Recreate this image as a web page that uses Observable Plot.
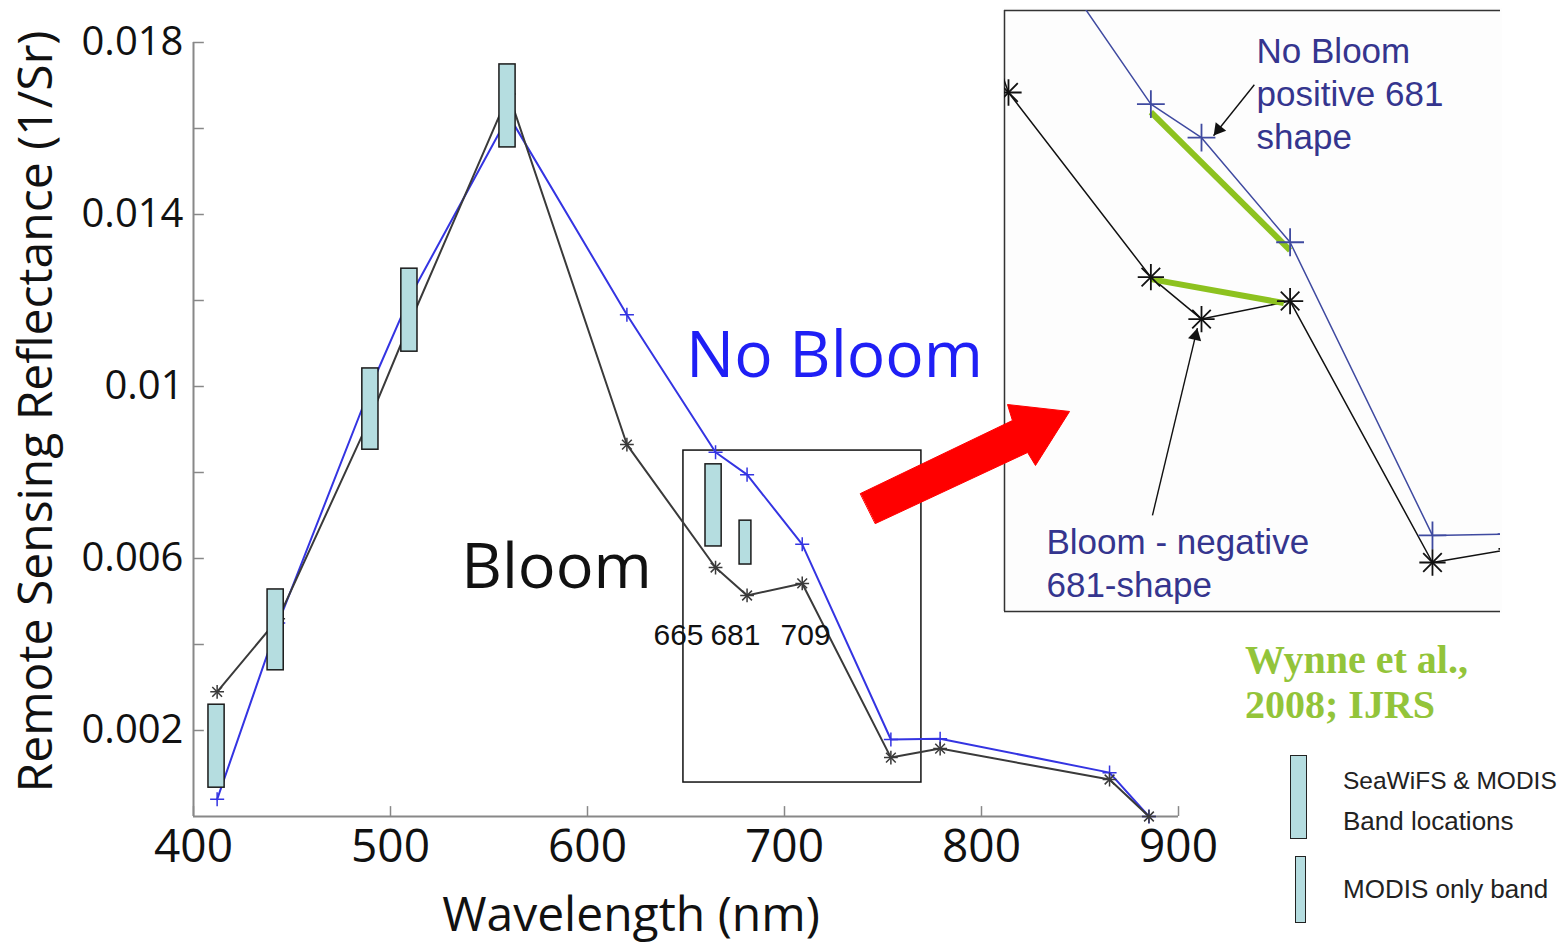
<!DOCTYPE html>
<html><head><meta charset="utf-8">
<script src="https://cdn.jsdelivr.net/npm/d3@7"></script>
<script src="https://cdn.jsdelivr.net/npm/@observablehq/plot@0.6"></script>
<style>
body{margin:0;background:#fff;}
#wrap{position:relative;width:1563px;height:947px;overflow:hidden;background:#fff;}
#inset{position:absolute;left:1002px;top:8px;}
#main{position:absolute;left:0;top:0;}
.cite{position:absolute;left:1245px;top:637px;font-family:"Liberation Serif",serif;font-weight:bold;font-size:40px;line-height:45px;color:#93c43a;white-space:nowrap;}
.leg{position:absolute;left:1343px;font-family:"Liberation Sans",Arial,sans-serif;font-size:26px;line-height:30px;color:#222;white-space:nowrap;}
.lbar{position:absolute;box-sizing:border-box;background:#b5dde0;border:1.5px solid #222;}
</style></head>
<body>
<div id="wrap">
  <div id="inset"></div>
  <div id="main"></div>
  <div class="cite">Wynne et al.,<br>2008; IJRS</div>
  <div class="lbar" style="left:1290px;top:755px;width:17px;height:84px;"></div>
  <div class="leg" style="top:766px;font-size:24.5px;">SeaWiFS &amp; MODIS</div>
  <div class="leg" style="top:806px;">Band locations</div>
  <div class="lbar" style="left:1295px;top:856px;width:11px;height:67px;"></div>
  <div class="leg" style="top:874px;">MODIS only band</div>
</div>
<script>
// ---- data (MERIS-like band centres, nm) ----
const wavelengths = [412, 443, 490, 510, 560, 620, 665, 681, 709, 754, 779, 865, 885];
const noBloom = [0.0004, 0.0045, 0.0100, 0.0121, 0.0163, 0.01167, 0.00847, 0.00795, 0.00633, 0.00179, 0.00181, 0.00102, 0.0];
const bloom   = [0.0029, 0.0046, 0.0093, 0.0115, 0.0168, 0.00865, 0.00579, 0.00514, 0.00542, 0.00137, 0.00158, 0.00086, 0.0];

// SeaWiFS & MODIS band boxes
const bandCenters = [411.7, 441.7, 489.8, 509.6, 559.4, 664.0];
const bandLow     = [0.00067, 0.00340, 0.00853, 0.01081, 0.01556, 0.00628];
const bandHigh    = [0.00260, 0.00528, 0.01042, 0.01274, 0.01749, 0.00819];
// MODIS only band box
const modisCenters = [680.2];
const modisLow     = [0.00586];
const modisHigh    = [0.00688];

// ticks
const xTicks = [400, 500, 600, 700, 800, 900];
const yTicks = [0.002, 0.006, 0.01, 0.014, 0.018];
const yTickLabels = ["0.002", "0.006", "0.01", "0.014", "0.018"];
const yMinorTicks = [0.004, 0.008, 0.012, 0.016];

// annotations (data coordinates)
const bandLabelText = ["665", "681", "709"];
const bandLabelX = [646.2, 675.1, 710.7];
const bandLabelY = [0.00421, 0.00421, 0.00421];
const zoomBoxX = [648.7, 769.5];
const zoomBoxY = [0.00079, 0.00851];
const redArrowX = [738.6, 815.7, 813.2, 844.7, 827.4, 823.4, 746.2];
const redArrowY = [0.007512, 0.009209, 0.009581, 0.009419, 0.008163, 0.008465, 0.006814];

// inset view
const insetX = [618.74, 775.5];
const insetY = [0.000611, 0.00992];
const insetNoteText = ["No Bloom\npositive 681\nshape", "Bloom - negative\n681-shape"];
const insetNoteX = [698.4, 632.0];
const insetNoteY = [0.00865, 0.001385];
const insetArrowX1 = [697.7, 665.5], insetArrowY1 = [0.00877, 0.00210];
const insetArrowX2 = [684.8, 679.7], insetArrowY2 = [0.00798, 0.00500];

// ---- build tables ----
const series = wavelengths.map((w, i) => ({w, nb: noBloom[i], b: bloom[i]}));
const bands = bandCenters.map((c, i) => ({x1: c - 4.1, x2: c + 4.1, y1: bandLow[i], y2: bandHigh[i]}));
const modisBands = modisCenters.map((c, i) => ({x1: c - 3.0, x2: c + 3.0, y1: modisLow[i], y2: modisHigh[i]}));
const bandLabels = bandLabelText.map((t, i) => ({t, x: bandLabelX[i], y: bandLabelY[i]}));
const redArrow = redArrowX.map((x, i) => ({x, y: redArrowY[i]}));
const zoomBox = [{x1: zoomBoxX[0], x2: zoomBoxX[1], y1: zoomBoxY[0], y2: zoomBoxY[1]}];

const BLUE = "#3434e2", DARK = "#3a3a3a";
const sans = "'Open Sans', 'Noto Sans', sans-serif";

const main = Plot.plot({
  width: 1563, height: 947,
  marginLeft: 193, marginRight: 385, marginTop: 42, marginBottom: 131,
  x: {domain: [400, 900]},
  y: {domain: [0, 0.018]},
  style: {background: "transparent", overflow: "visible", maxWidth: "none", fontFamily: sans, color: "#111"},
  marks: [
    Plot.axisX(xTicks, {tickSize: 0, tickPadding: 13, fontSize: 46, label: null}),
    Plot.axisY(yTicks, {tickSize: 0, tickPadding: 10, fontSize: 40, label: null,
      tickFormat: d => yTickLabels[yTicks.indexOf(d)]}),
    Plot.ruleY(yTicks.concat(yMinorTicks), {x1: 400, x2: 405.5, stroke: "#888", strokeWidth: 1.5}),
    Plot.ruleX(xTicks, {y1: 0, y2: 0.00023, stroke: "#888", strokeWidth: 1.5}),
    Plot.ruleY([0], {x1: 400, x2: 900, stroke: "#888", strokeWidth: 2}),
    Plot.ruleX([400], {y1: 0, y2: 0.018, stroke: "#888", strokeWidth: 2}),
    Plot.rect(zoomBox, {x1: "x1", x2: "x2", y1: "y1", y2: "y2", fill: "none", stroke: "#111", strokeWidth: 1.5}),
    Plot.line(series, {x: "w", y: "nb", stroke: BLUE, strokeWidth: 2}),
    Plot.line(series, {x: "w", y: "b", stroke: DARK, strokeWidth: 2}),
    Plot.dot(series, {x: "w", y: "nb", symbol: "plus", r: 4.6, stroke: BLUE, strokeWidth: 1.5}),
    Plot.dot(series, {x: "w", y: "b", symbol: "plus", r: 4.5, stroke: DARK, strokeWidth: 1.5}),
    Plot.dot(series, {x: "w", y: "b", symbol: "times", r: 4.5, stroke: DARK, strokeWidth: 1.5}),
    Plot.rect(bands, {x1: "x1", x2: "x2", y1: "y1", y2: "y2", fill: "#b5dde0", stroke: "#1a1a1a", strokeWidth: 1.5}),
    Plot.rect(modisBands, {x1: "x1", x2: "x2", y1: "y1", y2: "y2", fill: "#b5dde0", stroke: "#1a1a1a", strokeWidth: 1.5}),
    Plot.text(["Bloom"], {x: 584.3, y: 0.00579, fontSize: 63, fill: "#111", textAnchor: "middle", lineAnchor: "middle"}),
    Plot.text(["No Bloom"], {x: 725.4, y: 0.0107, fontSize: 64, fill: "#1f1ff5", textAnchor: "middle", lineAnchor: "middle"}),
    Plot.text(bandLabels, {x: "x", y: "y", text: "t", fontSize: 30, fill: "#111",
      fontFamily: "'Liberation Sans', Arial, sans-serif", textAnchor: "middle", lineAnchor: "middle"}),
    Plot.line(redArrow, {x: "x", y: "y", curve: "linear-closed", fill: "#ff0000", stroke: "#ff0000", strokeWidth: 1}),
    Plot.text(["Wavelength (nm)"], {frameAnchor: "bottom", dx: -55, dy: 99, fontSize: 48, fill: "#111",
      textAnchor: "middle", lineAnchor: "middle"}),
    Plot.text(["Remote Sensing Reflectance (1/Sr)"], {frameAnchor: "left", rotate: -90, dx: -157, dy: -18, fontSize: 48, fill: "#111",
      textAnchor: "middle", lineAnchor: "middle"})
  ]
});
document.getElementById("main").appendChild(main);

// ---- inset (zoomed view around 620-775 nm) ----
const IW = 500, IH = 605, IM = 2;
const i665 = wavelengths.indexOf(665), i709 = wavelengths.indexOf(709);
const greenLinks = [
  {x1: wavelengths[i665], y1: noBloom[i665], x2: wavelengths[i709], y2: noBloom[i709]},
  {x1: wavelengths[i665], y1: bloom[i665], x2: wavelengths[i709] - 2, y2: bloom[i709]}
];
const insetNotes = insetNoteText.map((t, i) => ({t, x: insetNoteX[i], y: insetNoteY[i]}));
const insetArrows = insetArrowX1.map((x1, i) => ({x1, y1: insetArrowY1[i], x2: insetArrowX2[i], y2: insetArrowY2[i]}));
// filled arrowheads: a triangle symbol set back from each arrow tip and rotated along the arrow
const sxI = d3.scaleLinear(insetX, [IM, IW - IM]);
const syI = d3.scaleLinear(insetY, [IH - IM, IM]);
const arrowHeads = insetArrows.map(a => {
  const px1 = sxI(a.x1), py1 = syI(a.y1), px2 = sxI(a.x2), py2 = syI(a.y2);
  const L = Math.hypot(px2 - px1, py2 - py1), ux = (px2 - px1) / L, uy = (py2 - py1) / L;
  const back = 8;
  return {x: sxI.invert(px2 - ux * back), y: syI.invert(py2 - uy * back),
          rot: Math.atan2(uy, ux) * 180 / Math.PI + 90};
});
const IBLUE = "#3f4aa0", NOTE = "#35358e", GREEN = "#8dc21f";

const inset = Plot.plot({
  width: IW, height: IH, margin: IM,
  x: {domain: insetX, axis: null},
  y: {domain: insetY, axis: null},
  style: {background: "#fdfdfd", overflow: "visible", maxWidth: "none"},
  marks: [
    Plot.ruleY([insetY[1], insetY[0]], {x1: insetX[0], x2: insetX[1], stroke: "#333", strokeWidth: 1.5}),
    Plot.ruleX([insetX[0]], {y1: insetY[0], y2: insetY[1], stroke: "#333", strokeWidth: 1.5}),
    Plot.line(series, {x: "w", y: "nb", stroke: IBLUE, strokeWidth: 1.5, clip: true}),
    Plot.line(series, {x: "w", y: "b", stroke: "#111", strokeWidth: 1.5, clip: true}),
    Plot.link([greenLinks[0]], {x1: "x1", y1: "y1", x2: "x2", y2: "y2", dy: 8, stroke: GREEN, strokeWidth: 6}),
    Plot.link([greenLinks[1]], {x1: "x1", y1: "y1", x2: "x2", y2: "y2", dy: 2, stroke: GREEN, strokeWidth: 6}),
    Plot.dot(series, {x: "w", y: "nb", symbol: "plus", r: 9, stroke: IBLUE, strokeWidth: 1.8, clip: true}),
    Plot.dot(series, {x: "w", y: "b", symbol: "plus", r: 8.5, stroke: "#111", strokeWidth: 1.8, clip: true}),
    Plot.dot(series, {x: "w", y: "b", symbol: "times", r: 8.5, stroke: "#111", strokeWidth: 1.8, clip: true}),
    Plot.link(insetArrows, {x1: "x1", y1: "y1", x2: "x2", y2: "y2", stroke: "#111", strokeWidth: 1.4}),
    Plot.dot(arrowHeads, {x: "x", y: "y", symbol: "triangle", r: 5, rotate: "rot", fill: "#111", stroke: "none"}),
    Plot.text(insetNotes, {x: "x", y: "y", text: "t", fontSize: 35, lineHeight: 1.22, fill: NOTE,
      fontFamily: "'Liberation Sans', Arial, sans-serif", textAnchor: "start", lineAnchor: "middle"})
  ]
});
document.getElementById("inset").appendChild(inset);
</script>
</body></html>
